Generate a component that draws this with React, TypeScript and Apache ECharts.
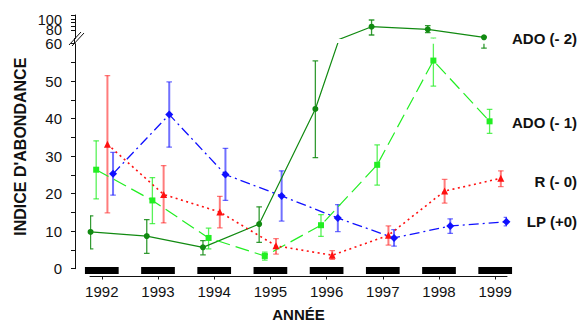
import React, { useEffect, useRef } from "react";
import * as echarts from "echarts";

// ---------- data ----------
const years = [1992, 1993, 1994, 1995, 1996, 1997, 1998, 1999];

const seriesNames = ["ADO (- 2)", "ADO (- 1)", "R (- 0)", "LP (+0)"];

const ado2Mean = [9.8, 8.7, 5.7, 11.9, 42.6, 86.6, 81.4, 65.4];
const ado2Low = [5.3, 4.1, 3.7, 7.0, 29.6, 70.0, 74.6, 58.8];
const ado2High = [14.1, 13.1, 7.5, 16.5, 55.4, 100.0, 88.6, 66.0];

const ado1Mean = [26.4, 18.2, 8.2, 3.4, 11.6, 27.7, 55.5, 39.3];
const ado1Low = [18.6, 12.0, 5.3, 2.3, 8.6, 22.3, 48.7, 36.1];
const ado1High = [34.1, 24.3, 10.8, 4.4, 14.4, 33.0, 63.5, 42.5];

const rMean = [33.2, 19.8, 15.1, 6.1, 3.6, 8.9, 20.7, 24.1];
const rLow = [14.9, 12.2, 10.9, 3.9, 2.5, 6.3, 17.5, 21.9];
const rHigh = [51.5, 27.5, 19.3, 8.0, 4.8, 11.4, 23.8, 26.1];

const lpMean = [25.3, 41.1, 25.1, 19.4, 13.5, 8.2, 11.4, 12.5];
const lpLow = [19.6, 32.4, 18.2, 12.7, 9.9, 6.0, 9.4, 11.4];
const lpHigh = [31.0, 49.8, 32.1, 26.1, 17.1, 10.4, 13.3, 13.7];

const lowerTickValues = [0, 5, 10, 15, 20, 25, 30, 35, 40, 45, 50, 55, 60];
const lowerLabelValues = [0, 10, 20, 30, 40, 50, 60];
const upperTickValues = [80, 87.5, 95, 102.5, 110];
const upperLabelValuesA = [80];
const upperLabelValuesB = [100];

const xAxisTitle = "ANNÉE";
const yAxisTitle = "INDICE D'ABONDANCE";

// ---------- styles ----------
const FONT = '"Liberation Sans", Arial, Helvetica, sans-serif';

const seriesStyles = [
  { color: "#118a11", symbol: "circle", size: 6, dash: "solid" as any, width: 1.2, errWidth: 1.3, errOpacity: 0.85, xShift: -0.2, labelY: 38.5 },
  { color: "#22ee22", symbol: "rect", size: 6, dash: [14, 6] as any, width: 1.2, errWidth: 1.3, errOpacity: 0.75, xShift: -0.1, labelY: 122.3 },
  { color: "#ff1010", symbol: "triangle", size: 7, dash: [2, 3.5] as any, width: 1.6, errWidth: 2, errOpacity: 0.55, xShift: 0.1, labelY: 181 },
  { color: "#1010ff", symbol: "diamond", size: 8, dash: [10, 4, 2, 4] as any, width: 1.3, errWidth: 2, errOpacity: 0.6, xShift: 0.2, labelY: 221.7 },
];

const seriesTable = [
  { mean: ado2Mean, low: ado2Low, high: ado2High },
  { mean: ado1Mean, low: ado1Low, high: ado1High },
  { mean: rMean, low: rLow, high: rHigh },
  { mean: lpMean, low: lpLow, high: lpHigh },
];

const X_MIN = 1991.79;
const X_MAX = 1999.21;
const GRID_LEFT = 90;
const GRID_WIDTH = 417;

function buildOption(): any {
  const series: any[] = [];

  // grids: 0 = lower segment (0-60), 1 = upper segment (63-110)
  [0, 1].forEach((g) => {
    seriesTable.forEach((s, k) => {
      const st = seriesStyles[k];
      series.push({
        type: "line",
        name: seriesNames[k] + "-" + g,
        xAxisIndex: g,
        yAxisIndex: g,
        clip: true,
        data: years.map((y, i) => [y + st.xShift, s.mean[i]]),
        symbol: st.symbol,
        symbolSize: st.size,
        showSymbol: true,
        itemStyle: { color: st.color },
        lineStyle: { color: st.color, width: st.width, type: st.dash },
        z: 3,
      });
      series.push({
        type: "custom",
        name: seriesNames[k] + "-err-" + g,
        xAxisIndex: g,
        yAxisIndex: g,
        clip: true,
        data: years.map((y, i) => [y + st.xShift, s.low[i], s.high[i]]),
        encode: { x: 0, y: [1, 2] },
        z: 2,
        renderItem: (params: any, api: any) => {
          const x = api.value(0);
          const lo = api.coord([x, api.value(1)]);
          const hi = api.coord([x, api.value(2)]);
          const cap = 2.8;
          const style = { stroke: st.color, lineWidth: st.errWidth, opacity: st.errOpacity };
          return {
            type: "group",
            children: [
              { type: "line", shape: { x1: lo[0], y1: lo[1], x2: hi[0], y2: hi[1] }, style },
              { type: "line", shape: { x1: hi[0] - cap, y1: hi[1], x2: hi[0] + cap, y2: hi[1] }, style: { ...style, lineWidth: 1.3 } },
              { type: "line", shape: { x1: lo[0] - cap, y1: lo[1], x2: lo[0] + cap, y2: lo[1] }, style: { ...style, lineWidth: 1.3 } },
            ],
          };
        },
      });
    });
  });

  // black year bars below the zero line
  series.push({
    type: "custom",
    name: "yearBars",
    xAxisIndex: 0,
    yAxisIndex: 0,
    clip: false,
    data: years.map((y) => [y, 0]),
    encode: { x: 0, y: 1 },
    z: 4,
    renderItem: (params: any, api: any) => {
      const x = api.value(0);
      const c = api.coord([x, 0]);
      const l = api.coord([x - 0.3, 0])[0];
      const r = api.coord([x + 0.3, 0])[0];
      return {
        type: "rect",
        shape: { x: l, y: c[1] - 1.7, width: r - l, height: 7 },
        style: { fill: "#000" },
      };
    },
  });

  const axisLineStyle = { color: "#111", width: 1 };
  const labelStyle = { fontFamily: FONT, fontSize: 15, color: "#111" };
  const upperLabelStyle = { fontFamily: FONT, fontSize: 14.5, lineHeight: 10, color: "#111" };

  const graphics: any[] = [
    // axis connector and break marks
    { type: "line", shape: { x1: 74.5, y1: 38, x2: 74.5, y2: 44 }, style: { stroke: "#111", lineWidth: 1 } },
    { type: "line", shape: { x1: 69, y1: 45, x2: 81, y2: 32 }, style: { stroke: "#111", lineWidth: 1 } },
    { type: "line", shape: { x1: 72, y1: 46, x2: 84, y2: 33 }, style: { stroke: "#111", lineWidth: 1 } },
    {
      type: "text",
      x: 20.8,
      y: 146.7,
      rotation: Math.PI / 2,
      style: { text: yAxisTitle, font: "bold 16px " + FONT, fill: "#111", align: "center", verticalAlign: "middle", textAlign: "center", textVerticalAlign: "middle" },
    },
    {
      type: "text",
      x: 298.5,
      y: 314.5,
      style: { text: xAxisTitle, font: "bold 15px " + FONT, fill: "#111", align: "center", verticalAlign: "middle", textAlign: "center", textVerticalAlign: "middle" },
    },
  ];
  seriesNames.forEach((n, k) => {
    graphics.push({
      type: "text",
      x: 577,
      y: seriesStyles[k].labelY,
      style: { text: n, font: "bold 15px " + FONT, fill: "#111", align: "right", verticalAlign: "middle", textAlign: "right", textVerticalAlign: "middle" },
    });
  });

  return {
    animation: false,
    backgroundColor: "#fff",
    textStyle: { fontFamily: FONT },
    grid: [
      { left: GRID_LEFT, width: GRID_WIDTH, top: 43.7, height: 225, containLabel: false },
      { left: GRID_LEFT, width: GRID_WIDTH, top: 15, height: 23.5, containLabel: false },
    ],
    xAxis: [
      {
        gridIndex: 0,
        type: "value",
        min: X_MIN,
        max: X_MAX,
        offset: 7.3,
        axisLine: { show: true, onZero: false, lineStyle: axisLineStyle },
        axisTick: { show: true, length: 3.5, customValues: years, lineStyle: axisLineStyle },
        axisLabel: { show: true, customValues: years, margin: 8, showMinLabel: true, showMaxLabel: true, formatter: (v: number) => String(Math.round(v)), ...labelStyle },
        splitLine: { show: false },
      },
      {
        gridIndex: 1,
        type: "value",
        min: X_MIN,
        max: X_MAX,
        show: false,
        splitLine: { show: false },
      },
    ],
    yAxis: [
      {
        gridIndex: 0,
        type: "value",
        position: "left",
        min: 0,
        max: 60,
        offset: 15,
        axisLine: { show: true, onZero: false, lineStyle: axisLineStyle },
        axisTick: { show: true, length: 4, customValues: lowerTickValues, lineStyle: axisLineStyle },
        axisLabel: { show: true, customValues: lowerLabelValues, margin: 13, showMinLabel: true, showMaxLabel: true, ...labelStyle },
        splitLine: { show: false },
      },
      {
        gridIndex: 1,
        type: "value",
        position: "left",
        min: 63,
        max: 110,
        offset: 15,
        axisLine: { show: true, onZero: false, lineStyle: axisLineStyle },
        axisTick: { show: true, length: 4, customValues: upperTickValues, lineStyle: axisLineStyle },
        axisLabel: { show: true, customValues: upperLabelValuesA, margin: 13, showMinLabel: true, showMaxLabel: true, ...upperLabelStyle },
        splitLine: { show: false },
      },
      {
        gridIndex: 1,
        type: "value",
        position: "left",
        min: 63,
        max: 110,
        offset: 15,
        axisLine: { show: false, onZero: false },
        axisTick: { show: false },
        axisLabel: { show: true, customValues: upperLabelValuesB, margin: 13, showMinLabel: true, showMaxLabel: true, ...upperLabelStyle },
        splitLine: { show: false },
      },
    ],
    series,
    graphic: graphics,
  };
}

export default function App() {
  const ref = useRef<HTMLDivElement>(null);
  useEffect(() => {
    if (!ref.current) return;
    const chart = echarts.init(ref.current, null, { renderer: "svg" });
    chart.setOption(buildOption());
    return () => chart.dispose();
  }, []);
  return (
    <div
      ref={ref}
      style={{ position: "fixed", left: 0, top: 0, width: 579, height: 323, background: "#fff" }}
    />
  );
}
